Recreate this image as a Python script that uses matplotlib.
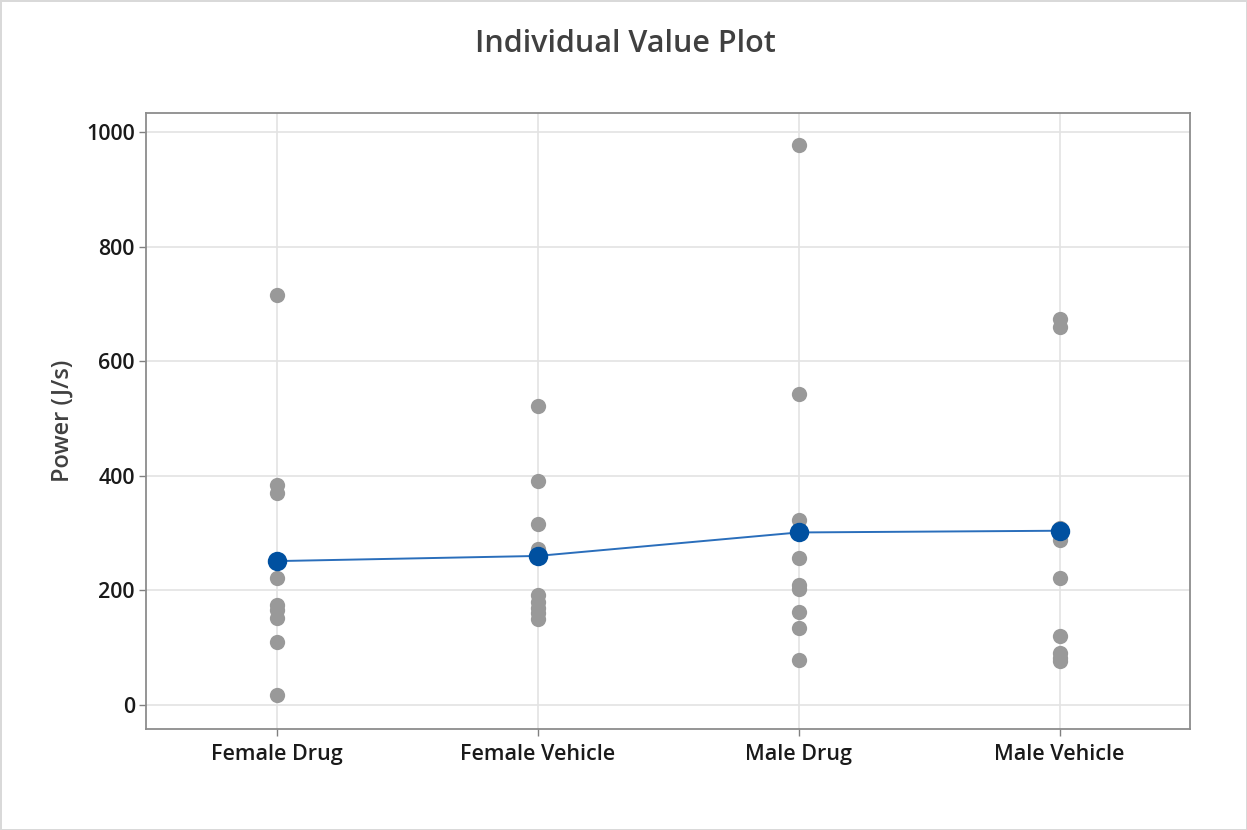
import matplotlib
matplotlib.use("Agg")
import matplotlib.pyplot as plt

groups = ["Female Drug", "Female Vehicle", "Male Drug", "Male Vehicle"]

female_drug = [715, 383, 370, 221, 175, 165, 152, 110, 17]
female_vehicle = [522, 391, 316, 272, 191, 180, 170, 160, 150]
male_drug = [977, 542, 322, 257, 210, 203, 163, 134, 78]
male_vehicle = [674, 660, 308, 288, 221, 120, 90, 82, 76]

# group means as shown by the connect line
group_means = [251, 260, 301, 304]

y_ticks = [0, 200, 400, 600, 800, 1000]

plt.rcParams["font.family"] = ["Open Sans", "DejaVu Sans"]

fig = plt.figure(figsize=(12.47, 8.30), dpi=100)
fig.patch.set_edgecolor("#d9d9d9")
fig.patch.set_linewidth(2)
ax = fig.add_axes([146 / 1247, 1 - 729 / 830, (1190 - 146) / 1247, (729 - 113) / 830])

for i, vals in enumerate([female_drug, female_vehicle, male_drug, male_vehicle]):
    ax.plot([i] * len(vals), vals, "o", color="#999999", markersize=11,
            markeredgewidth=0, zorder=3)

ax.plot(range(len(groups)), group_means, "-", color="#2a6ebb", linewidth=1.4, zorder=4)
ax.plot(range(len(groups)), group_means, "o", color="#0050a0", markersize=14,
        markeredgewidth=0, zorder=5)

ax.set_xlim(-0.5, 3.5)
ax.set_ylim(-42, 1033)
ax.set_xticks(range(len(groups)))
ax.set_xticklabels(groups, fontsize=15.5, fontweight="semibold", color="#1a1a1a")
ax.set_yticks(y_ticks)
ax.set_yticklabels([str(v) for v in y_ticks], fontsize=15.5, fontweight="semibold",
                   color="#1a1a1a")
ax.tick_params(length=5, width=1, color="#808080", pad=3)
ax.tick_params(axis="x", pad=6)

ax.grid(True, color="#e3e3e3", linewidth=1.2, zorder=0)
ax.set_axisbelow(True)
for sp in ax.spines.values():
    sp.set_color("#8c8c8c")
    sp.set_linewidth(1.3)

ax.set_ylabel("Power (J/s)", fontsize=17, fontweight="semibold", color="#404040",
              labelpad=8)
fig.text(625 / 1247, 1 - 44 / 830, "Individual Value Plot", ha="center", va="center",
         fontsize=22, fontweight="semibold", color="#404040")

fig.savefig("out.png", dpi=100)
